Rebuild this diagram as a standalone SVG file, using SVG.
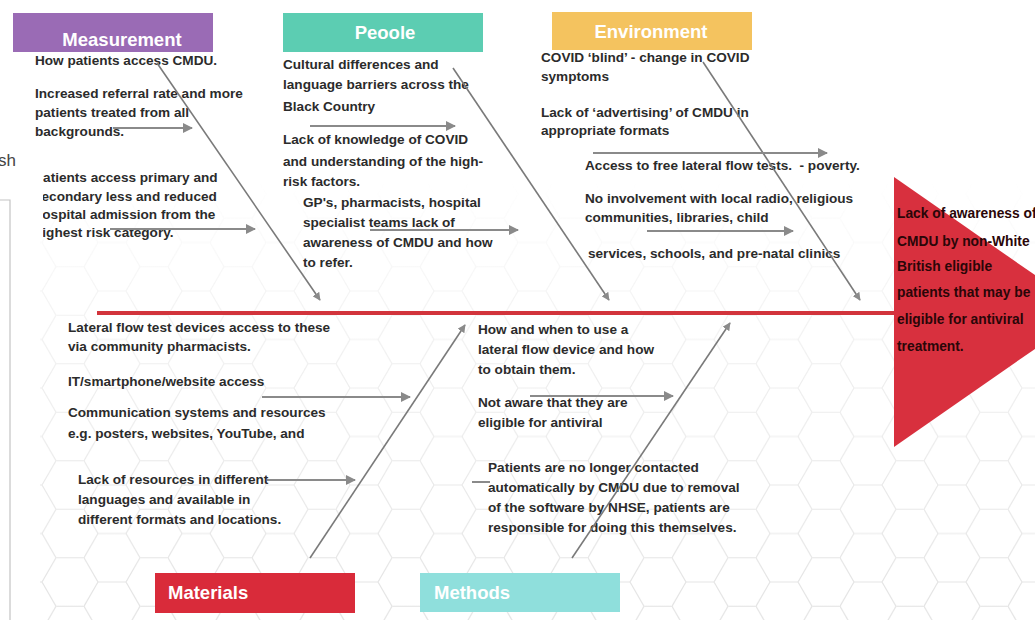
<svg xmlns="http://www.w3.org/2000/svg" width="1035" height="620" viewBox="0 0 1035 620">
<style>
.t{font-family:"Liberation Sans",Arial,sans-serif;font-size:13.6px;font-weight:700;fill:#2b2b2b}
.h{font-family:"Liberation Sans",Arial,sans-serif;font-size:18.5px;font-weight:700;fill:#ffffff}
.e{font-family:"Liberation Sans",Arial,sans-serif;font-size:13.8px;font-weight:700;fill:#2a0608}
.a{stroke:#8a8a8a;stroke-width:2;fill:none;marker-end:url(#ah)}
.d{stroke:#7a7a7a;stroke-width:1.6;fill:none;marker-end:url(#ah)}
</style>
<defs>
<marker id="ah" viewBox="0 0 10 10" refX="9" refY="5" markerWidth="5" markerHeight="5" orient="auto" markerUnits="strokeWidth">
<path d="M0,0 L10,5 L0,10 Z" fill="#8a8a8a"/>
</marker>
<pattern id="hex" width="84" height="48.5" patternUnits="userSpaceOnUse">
<path d="M0,24.25 L14,0 L42,0 L56,24.25 L42,48.5 L14,48.5 Z M56,24.25 L84,24.25" fill="none" stroke="#dcdcdc" stroke-width="1.2"/>
</pattern>
<linearGradient id="fade" x1="0" y1="0" x2="0" y2="1">
<stop offset="0" stop-color="#fff" stop-opacity="0"/>
<stop offset="0.35" stop-color="#fff" stop-opacity="0.5"/>
<stop offset="1" stop-color="#fff" stop-opacity="1"/>
</linearGradient>
<mask id="m"><rect x="40" y="180" width="995" height="440" fill="url(#fade)"/></mask>
<clipPath id="clipM"><rect x="43" y="160" width="300" height="90"/></clipPath>
</defs>
<rect width="1035" height="620" fill="#ffffff"/>
<rect x="40" y="180" width="995" height="440" fill="url(#hex)" mask="url(#m)" opacity="0.8"/>
<g id="left-panel">
<text x="-2" y="166" font-family="Liberation Sans,Arial,sans-serif" font-size="17" fill="#444">sh</text>
<path d="M0,200 H10 V620" fill="none" stroke="#c4c4c4" stroke-width="1.2"/>
</g>
<g id="effect">
<line x1="97" y1="313" x2="897" y2="313" stroke="#d2343c" stroke-width="4"/>
<polygon points="894,177 1088,312 894,447" fill="#d8303e"/>
<text class="e" x="897" y="218">Lack of awareness of</text>
<text class="e" x="897" y="246">CMDU by non-White</text>
<text class="e" x="897" y="271">British eligible</text>
<text class="e" x="897" y="297">patients that may be</text>
<text class="e" x="897" y="324">eligible for antiviral</text>
<text class="e" x="897" y="351">treatment.</text>
</g>
<g id="measurement">
<rect x="13" y="13" width="200" height="39" fill="#9a6bb5"/>
<text class="h" x="122" y="46" text-anchor="middle" fill="#f4ecfa">Measurement</text>
<text class="t" x="35" y="65">How patients access CMDU.</text>
<text class="t" x="35" y="98">Increased referral rate and more</text>
<text class="t" x="35" y="117">patients treated from all</text>
<text class="t" x="35" y="136">backgrounds.</text>
<g clip-path="url(#clipM)">
<text class="t" x="34" y="182">Patients access primary and</text>
<text class="t" x="34" y="201">secondary less and reduced</text>
<text class="t" x="34" y="219">hospital admission from the</text>
<text class="t" x="34" y="237">highest risk category.</text>
</g>
</g>
<g id="people">
<rect x="283" y="13" width="200" height="39" fill="#5ccdb2"/>
<text class="h" x="385" y="39" text-anchor="middle">Peoole</text>
<text class="t" x="283" y="69">Cultural differences and</text>
<text class="t" x="283" y="89">language barriers across the</text>
<text class="t" x="283" y="111">Black Country</text>
<text class="t" x="283" y="144">Lack of knowledge of COVID</text>
<text class="t" x="283" y="166">and understanding of the high-</text>
<text class="t" x="283" y="186">risk factors.</text>
<text class="t" x="303" y="207">GP's, pharmacists, hospital</text>
<text class="t" x="303" y="227">specialist teams lack of</text>
<text class="t" x="303" y="247">awareness of CMDU and how</text>
<text class="t" x="303" y="267">to refer.</text>
</g>
<g id="environment">
<rect x="552" y="12" width="200" height="38" fill="#f4c35f"/>
<text class="h" x="651" y="38" text-anchor="middle" fill="#fff7e2">Environment</text>
<text class="t" x="541" y="62">COVID ‘blind’ - change in COVID</text>
<text class="t" x="541" y="81">symptoms</text>
<text class="t" x="541" y="117">Lack of ‘advertising’ of CMDU in</text>
<text class="t" x="541" y="135">appropriate formats</text>
<text class="t" x="585" y="170">Access to free lateral flow tests. &#160;- poverty.</text>
<text class="t" x="585" y="203">No involvement with local radio, religious</text>
<text class="t" x="585" y="222">communities, libraries, child</text>
<text class="t" x="588" y="258">services, schools, and pre-natal clinics</text>
</g>
<g id="materials">
<rect x="155" y="573" width="200" height="40" fill="#d92b3a"/>
<text class="h" x="168" y="599" fill="#fbeaec">Materials</text>
<text class="t" x="68" y="332">Lateral flow test devices access to these</text>
<text class="t" x="68" y="351">via community pharmacists.</text>
<text class="t" x="68" y="386">IT/smartphone/website access</text>
<text class="t" x="68" y="417">Communication systems and resources</text>
<text class="t" x="68" y="438">e.g. posters, websites, YouTube, and</text>
<text class="t" x="78" y="484">Lack of resources in different</text>
<text class="t" x="78" y="504">languages and available in</text>
<text class="t" x="78" y="524">different formats and locations.</text>
</g>
<g id="methods">
<rect x="420" y="573" width="200" height="39" fill="#8fdfdc"/>
<text class="h" x="434" y="599">Methods</text>
<text class="t" x="478" y="334">How and when to use a</text>
<text class="t" x="478" y="354">lateral flow device and how</text>
<text class="t" x="478" y="374">to obtain them.</text>
<text class="t" x="478" y="407">Not aware that they are</text>
<text class="t" x="478" y="427">eligible for antiviral</text>
<text class="t" x="488" y="472">Patients are no longer contacted</text>
<text class="t" x="488" y="492">automatically by CMDU due to removal</text>
<text class="t" x="488" y="512">of the software by NHSE, patients are</text>
<text class="t" x="488" y="532">responsible for doing this themselves.</text>
</g>
<g id="connectors">
<line class="d" x1="157" y1="63" x2="320" y2="300"/>
<line class="d" x1="453" y1="68" x2="609" y2="300"/>
<line class="d" x1="703" y1="62" x2="860" y2="300"/>
<line class="d" x1="310" y1="558" x2="465" y2="325"/>
<line class="d" x1="572" y1="558" x2="730" y2="323"/>
<line class="a" x1="113" y1="128" x2="192" y2="128"/>
<line class="a" x1="110" y1="229" x2="255" y2="229"/>
<line class="a" x1="310" y1="126" x2="455" y2="126"/>
<line class="a" x1="370" y1="230" x2="518" y2="230"/>
<line class="a" x1="593" y1="153" x2="827" y2="153"/>
<line class="a" x1="647" y1="231" x2="793" y2="231"/>
<line class="a" x1="262" y1="397" x2="410" y2="397"/>
<line class="a" x1="267" y1="480" x2="355" y2="480"/>
<line class="a" x1="530" y1="396" x2="673" y2="396"/>
<line x1="472" y1="482" x2="490" y2="482" stroke="#8a8a8a" stroke-width="2"/>
</g>
</svg>
